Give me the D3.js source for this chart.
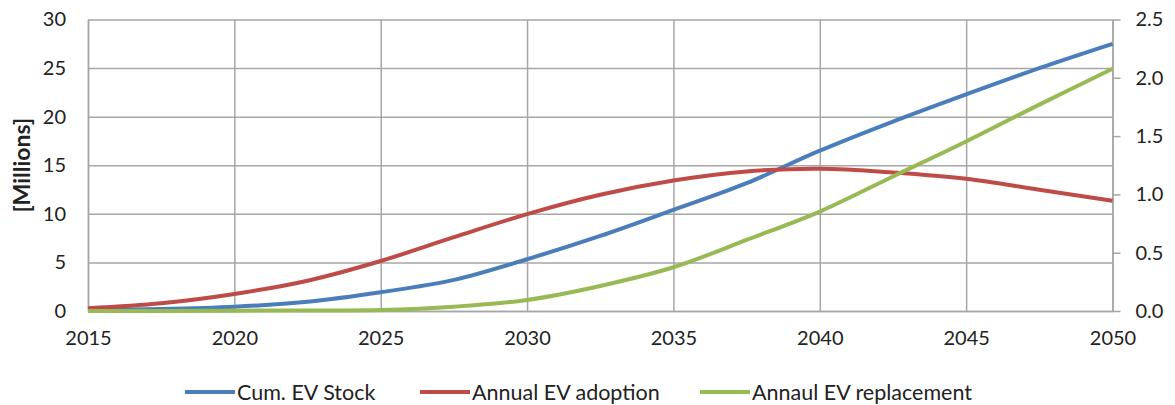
<!DOCTYPE html>
<html>
<head>
<meta charset="utf-8">
<script src="https://cdn.jsdelivr.net/npm/d3@7"></script>
<style>
  html, body { margin: 0; padding: 0; background: #fff; }
  svg { display: block; }
  text { font-family: Lato, "Open Sans", sans-serif; fill: #222; }
</style>
</head>
<body>
<svg id="chart" width="1175" height="405"></svg>
<script>
// Years sampled every 2.5 years
const years = [2015, 2017.5, 2020, 2022.5, 2025, 2027.5, 2030, 2032.5, 2035, 2037.5, 2040, 2042.5, 2045, 2047.5, 2050];

// Cumulative EV stock, millions (left axis)
const cumStock = [0.1, 0.2, 0.44, 0.96, 1.93, 3.2, 5.33, 7.73, 10.41, 13.16, 16.5, 19.5, 22.3, 25.0, 27.5];

// Annual EV adoption, millions per year (right axis)
const annualAdoption = [0.023, 0.066, 0.146, 0.26, 0.429, 0.633, 0.831, 0.997, 1.119, 1.197, 1.22, 1.188, 1.134, 1.04, 0.945];

// Annual EV replacement, millions per year (right axis)
const annualReplacement = [0.0, 0.001, 0.003, 0.005, 0.009, 0.037, 0.095, 0.215, 0.375, 0.61, 0.853, 1.154, 1.454, 1.77, 2.077];

const xTicks = [2015, 2020, 2025, 2030, 2035, 2040, 2045, 2050];
const leftTicks = [0, 5, 10, 15, 20, 25, 30];
const rightTicks = [0, 0.5, 1.0, 1.5, 2.0, 2.5];

const seriesNames = ["Cum. EV Stock", "Annual EV adoption", "Annaul EV replacement"];
const seriesColors = ["#4A7EBB", "#BE4B48", "#98B954"];

const svg = d3.select("#chart");
const m = { left: 88, right: 1112.5, top: 19.5, bottom: 311 };

const x = d3.scaleLinear().domain([2015, 2050]).range([m.left, m.right]);
const yL = d3.scaleLinear().domain([0, 30]).range([m.bottom, m.top]);
const yR = d3.scaleLinear().domain([0, 2.5]).range([m.bottom, m.top]);

const gridColor = "#A6A6A6";
const tickFont = "20px";

// Horizontal gridlines from the left axis
svg.append("g")
  .attr("transform", `translate(${m.left},0)`)
  .call(d3.axisLeft(yL).tickValues(leftTicks).tickSize(-(m.right - m.left)).tickFormat(""))
  .call(g => g.select(".domain").remove())
  .call(g => g.selectAll("line").attr("stroke", gridColor).attr("stroke-width", 1.5));

// Vertical gridlines
svg.append("g")
  .attr("transform", `translate(0,${m.bottom})`)
  .call(d3.axisBottom(x).tickValues(xTicks).tickSize(-(m.bottom - m.top)).tickFormat(""))
  .call(g => g.select(".domain").remove())
  .call(g => g.selectAll("line").attr("stroke", gridColor).attr("stroke-width", 1.5));

// Left axis labels
const leftAxis = svg.append("g")
  .attr("transform", `translate(${m.left},0)`)
  .call(d3.axisLeft(yL).tickValues(leftTicks).tickSize(0).tickPadding(22).tickFormat(d3.format("d")));
leftAxis.select(".domain").attr("stroke", gridColor).attr("stroke-width", 1.5);
leftAxis.selectAll("text").style("font-size", tickFont).style("font-family", "Lato, sans-serif").attr("fill", "#222");

// Right axis with outward ticks
const rightAxis = svg.append("g")
  .attr("transform", `translate(${m.right},0)`)
  .call(d3.axisRight(yR).tickValues(rightTicks).tickSize(8).tickSizeOuter(0).tickPadding(15).tickFormat(d3.format(".1f")));
rightAxis.select(".domain").attr("stroke", gridColor).attr("stroke-width", 1.5);
rightAxis.selectAll("line").attr("stroke", gridColor).attr("stroke-width", 1.5);
rightAxis.selectAll("text").style("font-size", tickFont).style("font-family", "Lato, sans-serif").attr("fill", "#222");

// Bottom axis labels
const bottomAxis = svg.append("g")
  .attr("transform", `translate(0,${m.bottom})`)
  .call(d3.axisBottom(x).tickValues(xTicks).tickSize(0).tickPadding(20).tickFormat(d3.format("d")));
bottomAxis.select(".domain").attr("stroke", gridColor).attr("stroke-width", 1.5);
bottomAxis.selectAll("text").style("font-size", tickFont).style("font-family", "Lato, sans-serif").attr("fill", "#222");

// Left axis title
svg.append("text")
  .attr("transform", `translate(30,${(m.top + m.bottom) / 2}) rotate(-90)`)
  .attr("text-anchor", "middle")
  .style("font-size", "23px")
  .style("font-weight", "bold")
  .text("[Millions]");

// Series lines
const series = [
  { values: cumStock, y: yL },
  { values: annualAdoption, y: yR },
  { values: annualReplacement, y: yR }
];

series.forEach((s, i) => {
  const line = d3.line()
    .x((d, j) => x(years[j]))
    .y(d => s.y(d))
    .curve(d3.curveCatmullRom.alpha(0.5));
  svg.append("path")
    .datum(s.values)
    .attr("fill", "none")
    .attr("stroke", seriesColors[i])
    .attr("stroke-width", 4)
    .attr("stroke-linejoin", "round")
    .attr("d", line);
});

// Legend
const legendX = [185, 420, 700];
const legend = svg.append("g");
seriesNames.forEach((name, i) => {
  const g = legend.append("g").attr("transform", `translate(${legendX[i]},392)`);
  g.append("line")
    .attr("x1", 0).attr("x2", 50)
    .attr("y1", 0).attr("y2", 0)
    .attr("stroke", seriesColors[i])
    .attr("stroke-width", 4);
  g.append("text")
    .attr("x", 52)
    .attr("y", 7.5)
    .style("font-size", "21.5px")
    .text(name);
});
</script>
</body>
</html>
